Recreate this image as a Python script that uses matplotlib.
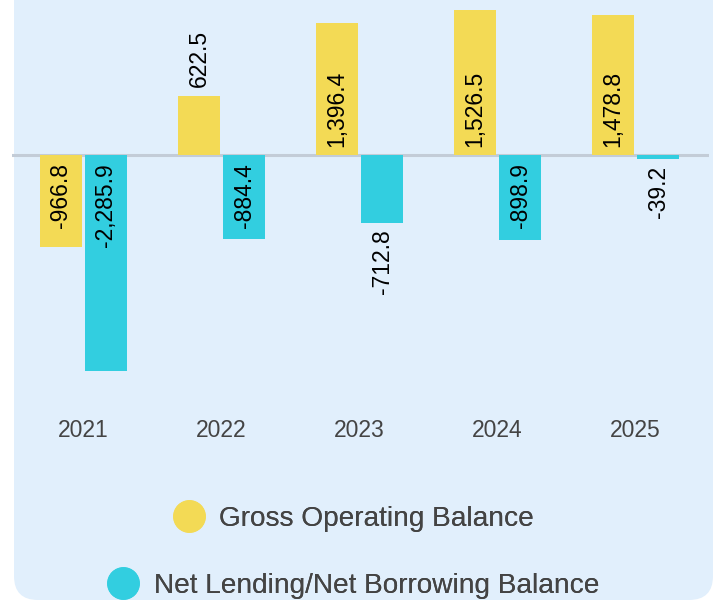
import matplotlib.pyplot as plt
import numpy as np
from matplotlib.patches import FancyBboxPatch
from matplotlib.lines import Line2D
from matplotlib.transforms import IdentityTransform

plt.rcParams['font.family'] = ['Liberation Sans', 'DejaVu Sans']

years = ['2021', '2022', '2023', '2024', '2025']
gross_operating = [-966.8, 622.5, 1396.4, 1526.5, 1478.8]
net_lending = [-2285.9, -884.4, -712.8, -898.9, -39.2]
series_names = ['Gross Operating Balance', 'Net Lending/Net Borrowing Balance']

yellow = '#F3DA55'
teal = '#32CEE0'
panel = '#E1EFFC'

W, H = 715, 601
fig = plt.figure(figsize=(W / 100, H / 100), dpi=100)
fig.patch.set_facecolor('white')

# light blue card, top edge runs off the image
card = FancyBboxPatch((14, 1), 699, 680, boxstyle='round,pad=0,rounding_size=24',
                      transform=IdentityTransform(), facecolor=panel, edgecolor='none', zorder=-5)
fig.patches.append(card)

# axes: 12px..709px wide, 0..400px tall (from top)
ax = fig.add_axes([12 / W, 1 - 400 / H, (709 - 12) / W, 400 / H])
ax.set_facecolor('none')
px_per_unit = 0.0947
ax.set_ylim(-(400 - 155) / px_per_unit, 155 / px_per_unit)
ax.set_xlim((12 - 83.5) / 138, (709 - 83.5) / 138)

x = np.arange(len(years))
bw = 42 / 138
off = 22.5 / 138
b1 = ax.bar(x - off, gross_operating, bw, color=yellow, zorder=3)
b2 = ax.bar(x + off, net_lending, bw, color=teal, zorder=3)
ax.axhline(0, color='#C3CCD7', lw=2.2, zorder=2)


def label(xpos, v):
    txt = f'{v:,.1f}'
    if abs(v) > 800:
        # inside the bar, near the baseline
        if v > 0:
            ax.annotate(txt, (xpos, 0), xytext=(0, 8), textcoords='offset pixels',
                        rotation=90, ha='center', va='bottom', fontsize=16.5, zorder=5)
        else:
            ax.annotate(txt, (xpos, 0), xytext=(0, -8), textcoords='offset pixels',
                        rotation=90, ha='center', va='top', fontsize=16.5, zorder=5)
    else:
        if v > 0:
            ax.annotate(txt, (xpos, v), xytext=(0, 9), textcoords='offset pixels',
                        rotation=90, ha='center', va='bottom', fontsize=16.5, zorder=5)
        else:
            ax.annotate(txt, (xpos, v), xytext=(0, -7), textcoords='offset pixels',
                        rotation=90, ha='center', va='top', fontsize=16.5, zorder=5)


for i in range(len(years)):
    label(x[i] - off, gross_operating[i])
    label(x[i] + off, net_lending[i])

ax.set_xticks(x)
ax.set_xticklabels(years, fontsize=16.5, color='#444444')
ax.tick_params(axis='x', length=0, pad=14)
ax.set_yticks([])
for s in ax.spines.values():
    s.set_visible(False)

# legend, one centred row per series
for name, col, ypix in [(series_names[0], yellow, 519), (series_names[1], teal, 586)]:
    h = Line2D([], [], marker='o', color=col, linestyle='none', markersize=22.5)
    leg = fig.legend([h], [name], loc='center', bbox_to_anchor=(353 / W, 1 - ypix / H),
                     frameon=False, fontsize=20.2, handletextpad=0.5, borderpad=0,
                     handlelength=1.2, labelcolor='#444444')
    fig.add_artist(leg)

fig.savefig('out.png', dpi=100)
